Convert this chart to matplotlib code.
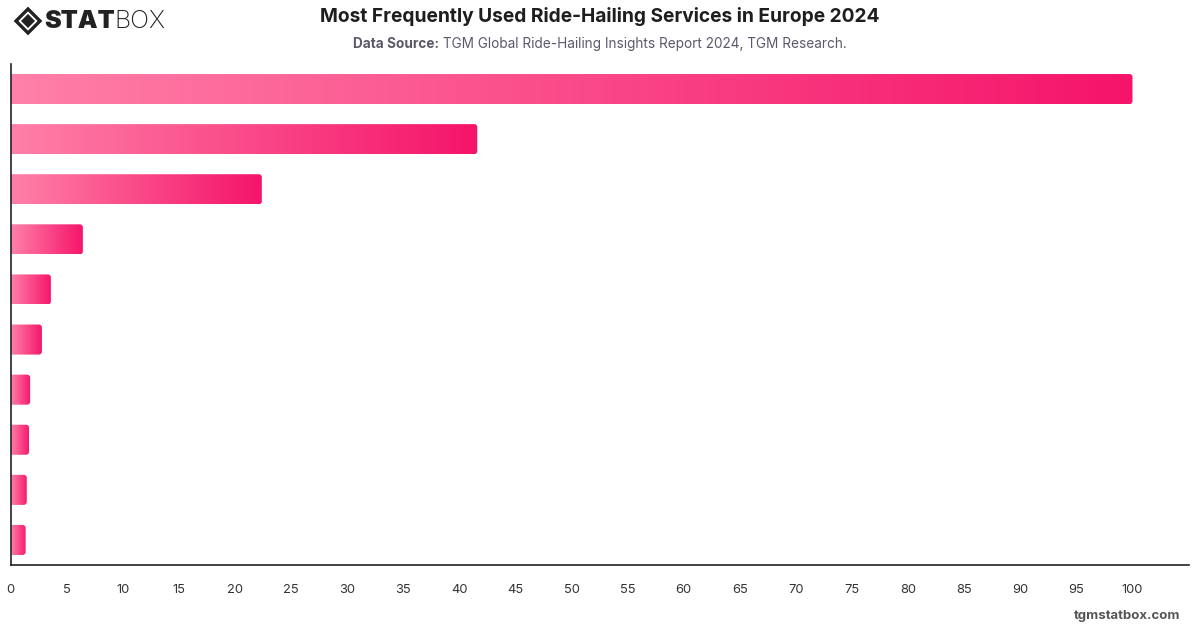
import matplotlib
matplotlib.use("Agg")
import matplotlib.pyplot as plt
import numpy as np
from matplotlib.patches import FancyBboxPatch, Polygon
from matplotlib.colors import LinearSegmentedColormap

plt.rcParams['font.family'] = ['Inter', 'DejaVu Sans']

# Data (ranked services, labels not shown in the reference)
ranks = list(range(1, 11))
values = [100, 41.6, 22.4, 6.45, 3.6, 2.8, 1.75, 1.65, 1.45, 1.35]
xticks = list(range(0, 101, 5))

title = "Most Frequently Used Ride-Hailing Services in Europe 2024"
source_bold = "Data Source:"
source_rest = " TGM Global Ride-Hailing Insights Report 2024, TGM Research."

W, H = 1200, 628
fig = plt.figure(figsize=(W / 100, H / 100), dpi=100)
fig.patch.set_facecolor("white")

ax = fig.add_axes([10.5 / W, 1 - 565 / H, (1188.6 - 10.5) / W, (565 - 64) / H])
ax.set_xlim(0, 105)
ax.set_ylim(len(values) - 0.5, -0.5)

cmap = LinearSegmentedColormap.from_list("pk", ["#FF80A8", "#F5146A"])
grad = np.linspace(0, 1, 256).reshape(1, -1)

bh = 0.6
rx = 3 / 11.22
ry = 3 / 50
for i, v in enumerate(values):
    y0 = i - bh / 2
    patch = FancyBboxPatch((-1, y0), v + 1, bh,
                           boxstyle=f"round,pad=0,rounding_size={rx}",
                           mutation_aspect=ry / rx,
                           facecolor="none", edgecolor="none")
    ax.add_patch(patch)
    im = ax.imshow(grad, cmap=cmap, aspect="auto",
                   extent=[0, v, i + bh / 2, y0], interpolation="bilinear",
                   zorder=2)
    im.set_clip_path(patch)

ax.set_xlim(0, 105)
ax.set_ylim(len(values) - 0.5, -0.5)
ax.set_yticks([])
ax.set_xticks(xticks)
ax.set_xticklabels([str(t) for t in xticks], fontsize=9.3, color="#333333")
ax.tick_params(axis="x", length=0, pad=14)
for s in ["top", "right"]:
    ax.spines[s].set_visible(False)
for s in ["left", "bottom"]:
    ax.spines[s].set_color("#222222")
    ax.spines[s].set_linewidth(1.2)

# Title and subtitle
fig.text(600 / W, 1 - 17 / H, title, ha="center", va="center",
         fontsize=13.8, fontweight="bold", color="#1e1e1e")
t1 = fig.text(0, 1 - 44 / H, source_bold, ha="left", va="center",
              fontsize=9.8, fontweight="bold", color="#5a5a6a")
t2 = fig.text(0, 1 - 44 / H, source_rest, ha="left", va="center",
              fontsize=9.8, color="#5a5a6a")
fig.canvas.draw()
r = fig.canvas.get_renderer()
w1 = t1.get_window_extent(r).width
w2 = t2.get_window_extent(r).width
start = 600 - (w1 + w2) / 2
t1.set_x(start / W)
t2.set_x((start + w1) / W)

# Logo
cx, cy = 28, 21
outer = Polygon([[cx - 12, cy], [cx, cy - 12], [cx + 12, cy], [cx, cy + 12]],
                closed=True, fill=False, edgecolor="#222222", linewidth=2.4)
inner = Polygon([[cx - 7, cy], [cx, cy - 7], [cx + 7, cy], [cx, cy + 7]],
                closed=True, facecolor="#222222", edgecolor="none")
for p in (outer, inner):
    p.set_transform(fig.transFigure)
    xy = p.get_xy()
    xy = np.column_stack([xy[:, 0] / W, 1 - xy[:, 1] / H])
    p.set_xy(xy)
    fig.patches.append(p)
ts = fig.text(44 / W, 1 - 21 / H, "STAT", ha="left", va="center",
              fontsize=18, fontweight="black", color="#222222")
fig.canvas.draw()
ws = ts.get_window_extent(r).width
fig.text((44 + ws) / W, 1 - 21 / H, "BOX", ha="left", va="center",
         fontsize=18, fontweight="light", color="#222222")

# Footer
fig.text(1180 / W, 1 - 616 / H, "tgmstatbox.com", ha="right", va="center",
         fontsize=9.5, fontweight="bold", color="#555555")

fig.savefig("out.png", dpi=100, facecolor="white")
